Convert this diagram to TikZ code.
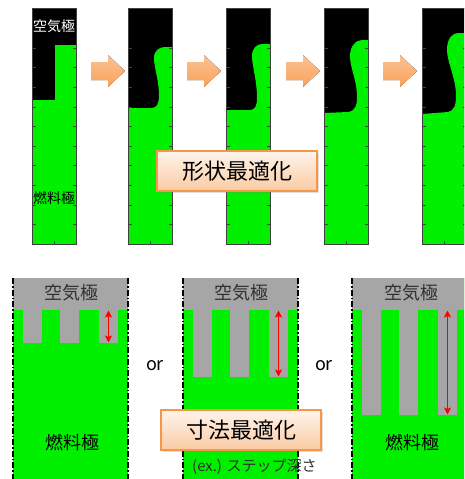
\documentclass[tikz,border=0pt]{standalone}
\usepackage{fontspec}
\setmainfont{Noto Sans CJK JP}
\usetikzlibrary{calc}
\usetikzlibrary{arrows.meta}
\usetikzlibrary{shadows}

\definecolor{fem}{HTML}{00F000}
\definecolor{airgray}{HTML}{A6A6A6}
\definecolor{framegray}{HTML}{404040}
\definecolor{textgray}{HTML}{303030}
\definecolor{arrorange}{HTML}{F9A25A}
\definecolor{boxorange}{HTML}{F79646}

\tikzset{
    optbox/.style={draw=boxorange, line width=1.6pt,
        top color=boxorange!10, bottom color=boxorange!50,
        minimum width=160pt, minimum height=40pt, inner sep=0pt,
        font=\fontsize{22}{22}\selectfont,
        drop shadow={opacity=0.25, shadow xshift=2pt, shadow yshift=-2pt}},
    pole/.style={font=\fontsize{14}{14}\selectfont, inner sep=0pt},
    bigpole/.style={font=\fontsize{18}{18}\selectfont, inner sep=0pt},
    sidedash/.style={black, line width=1.5pt,
        dash pattern=on 6pt off 2pt on 1.5pt off 2pt},
    depth/.style={red, line width=1.5pt,
        {Stealth[length=7pt,width=7pt,inset=1.5pt]}-{Stealth[length=7pt,width=7pt,inset=1.5pt]}},
}

% black background of a shape step
\newcommand{\airbox}[1]{
    \fill[black] (#1,8) rectangle ++(44,236);
}

% ticks and frame of a shape step
\newcommand{\stepframe}[1]{
    \foreach \k in {0,...,9} {
        \draw[framegray, semithick] (#1,48+19.6*\k) -- ++(3.5,0);
        \draw[framegray, semithick] (#1+44,48+19.6*\k) -- ++(-3.5,0);
    }
    \draw[framegray, semithick] (#1+22,244) -- ++(0,-3.5);
    \draw[framegray, line width=0.9pt] (#1,8) rectangle ++(44,236);
}

\newcommand{\steparrow}[1]{
    \fill[top color=arrorange!65, bottom color=arrorange]
        (#1,62) -- ++(17,0) -- ++(0,-7) -- ++(17,16) -- ++(-17,16)
        -- ++(0,-7) -- ++(-17,0) -- cycle;
}

% one sizing variant: x0, depth of the air channels
\newcommand{\sizepanel}[2]{
    \fill[fem] (#1,278) rectangle ++(115,201);
    \fill[airgray] (#1,278) rectangle ++(115,32);
    \foreach \t in {10,47,86}
        \fill[airgray] (#1+\t,309) rectangle (#1+\t+19,#2);
    \draw[sidedash] (#1,278) -- (#1,479);
    \draw[sidedash] (#1+115,278) -- (#1+115,479);
    \coordinate (d#1) at (#1+95.5,310.5);
    \coordinate (e#1) at (#1+95.5,#2-0.5);
    \draw[depth] (d#1) -- (e#1);
}

\begin{document}
\begin{tikzpicture}[x=1pt,y=-1pt]
\useasboundingbox (0,0) rectangle (464,479);
\clip (0,0) rectangle (464,479);

%%% shape optimisation
\foreach \x in {32,128,226,324,422} {\airbox{\x}}

\fill[fem] (32,244) -- (32,100) -- (55,100) -- (55,45) -- (76,45) -- (76,244) -- cycle;
\fill[fem] (128,244) -- (128,108) -- (151,108)
    .. controls (157,108) and (159,104) .. (159,95)
    .. controls (159,80) and (154,68) .. (154,58)
    .. controls (154,50) and (160,47) .. (165,47)
    -- (172,47) -- (172,244) -- cycle;
\fill[fem] (226,244) -- (226,110) -- (250,110)
    .. controls (255,110) and (257,106) .. (257,98)
    .. controls (257,80) and (252,66) .. (252,56)
    .. controls (252,48) and (257,44) .. (262,44)
    -- (270,44) -- (270,244) -- cycle;
\fill[fem] (324,244) -- (324,113) -- (348,112)
    .. controls (355,111) and (357,106) .. (357,97)
    .. controls (357,80) and (350,68) .. (350,56)
    .. controls (350,46) and (356,40) .. (362,40)
    -- (368,40) -- (368,244) -- cycle;
\fill[fem] (422,244) -- (422,114) -- (448,112)
    .. controls (454,111) and (456,105) .. (456,96)
    .. controls (456,78) and (447,62) .. (447,50)
    .. controls (447,39) and (452,33) .. (458,33)
    -- (466,33) -- (466,244) -- cycle;

\foreach \x in {32,128,226,324,422} {\stepframe{\x}}
\foreach \x in {91,187,286,383} {\steparrow{\x}}

\node[pole, white] (air1) at (54,26) {空気極};
\node[pole, black] (fuel1) at (54,198) {燃料極};

\node[optbox] (shapeopt) at (237,171) {形状最適化};

%%% sizing optimisation
\sizepanel{13}{343}
\sizepanel{183}{377}
\sizepanel{352}{415}

\node[bigpole, textgray] (airA) at (71,293) {空気極};
\node[bigpole, textgray] (airB) at (241,293) {空気極};
\node[bigpole, textgray] (airC) at (411,293) {空気極};
\node[bigpole, black] (fuelA) at (72,443) {燃料極};
\node[bigpole, black] (fuelC) at (412,443) {燃料極};

\node[bigpole] (orA) at (155,366) {or};
\node[bigpole] (orB) at (324,366) {or};

\node[optbox] (sizeopt) at (241,430) {寸法最適化};
\node[anchor=west, inner sep=0pt, textgray, font=\fontsize{15}{15}\selectfont] (example) at (192,467) {(ex.) ステップ深さ};

\end{tikzpicture}
\end{document}
